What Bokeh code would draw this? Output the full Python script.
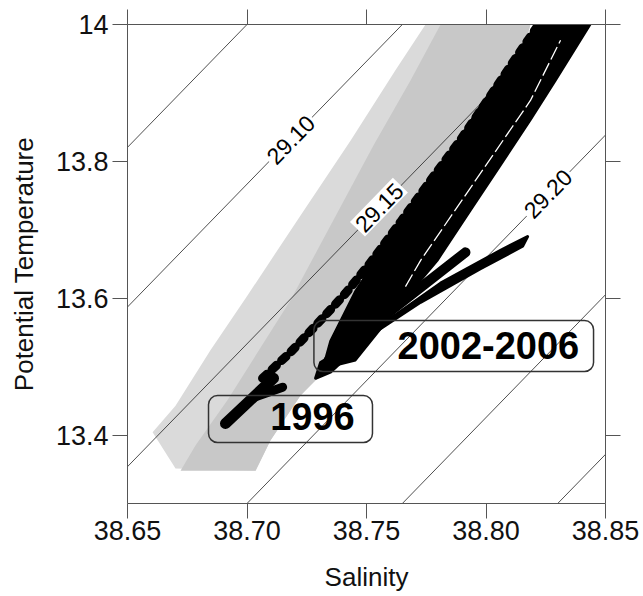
from bokeh.plotting import figure
from bokeh.models import FixedTicker, LinearAxis, Range1d
from bokeh.core.properties import value
from bokeh.embed import file_html
from bokeh.resources import INLINE

# ---------------- axes ----------------
sal_ticks = [38.65, 38.70, 38.75, 38.80, 38.85]
sal_tick_labels = ["38.65", "38.70", "38.75", "38.80", "38.85"]
temp_ticks = [13.4, 13.6, 13.8, 14.0]
temp_tick_labels = ["13.4", "13.6", "13.8", "14"]
sal_range = (38.65, 38.85)
temp_range = (13.3, 14.0)

# ---------------- isopycnals (sigma-theta) ----------------
sigma_levels = [29.05, 29.10, 29.15, 29.20, 29.25, 29.30]
sigma_temp_ends = [13.3, 14.0]
sigma_sal_at_low = [38.505, 38.570, 38.635, 38.700, 38.765, 38.830]
sigma_sal_at_high = [38.700, 38.765, 38.830, 38.895, 38.960, 39.025]
sigma_label_text = ["29.10", "29.15", "29.20"]
sigma_label_sal = [38.7182, 38.7552, 38.8258]
sigma_label_temp = [13.832, 13.733, 13.753]

# ---------------- grey cloud (all other profiles) ----------------
grey_fringe_sal = [38.6701, 38.6605, 38.6701, 38.6847, 38.7002, 38.7224, 38.7433,
                   38.7621, 38.7747, 38.8186, 38.8123, 38.8019, 38.7851, 38.7642,
                   38.7475, 38.7349, 38.7224, 38.7098, 38.7036]
grey_fringe_temp = [13.351, 13.404, 13.443, 13.524, 13.604, 13.721, 13.830,
                    13.933, 14.000, 14.000, 13.918, 13.845, 13.757, 13.655,
                    13.567, 13.502, 13.458, 13.392, 13.348]
grey_core_sal = [38.6722, 38.7036, 38.7098, 38.7224, 38.7349, 38.7475, 38.7642,
                 38.7851, 38.8019, 38.8123, 38.8186, 38.7810, 38.7684, 38.7529,
                 38.7349, 38.7182, 38.6918, 38.6785]
grey_core_temp = [13.348, 13.348, 13.392, 13.458, 13.502, 13.567, 13.655,
                  13.757, 13.845, 13.918, 14.000, 14.000, 13.918, 13.823,
                  13.706, 13.597, 13.451, 13.385]

# ---------------- 2002-2006 profiles (black) ----------------
band_sal = [38.7316, 38.7349, 38.7454, 38.7579, 38.7726, 38.7872, 38.7977, 38.8082,
            38.8215, 38.8437, 38.8291, 38.8186, 38.8061, 38.7935, 38.7797, 38.7621,
            38.7454]
band_temp = [13.497, 13.538, 13.611, 13.677, 13.750, 13.823, 13.882, 13.933,
             14.000, 14.000, 13.918, 13.860, 13.794, 13.728, 13.655, 13.582,
             13.509]
band_gap_sal = [38.7663, 38.7726, 38.8186, 38.8312]
band_gap_temp = [13.617, 13.655, 13.889, 13.977]
edge_sal = [38.7065, 38.7182, 38.7287, 38.7412, 38.7517, 38.7642, 38.7768,
            38.7893, 38.8006, 38.8123, 38.8215]
edge_temp = [13.483, 13.521, 13.560, 13.607, 13.652, 13.711, 13.772,
             13.831, 13.889, 13.950, 13.997]
branch1_sal = [38.7341, 38.7559, 38.7914]
branch1_temp = [13.509, 13.570, 13.667]
branch2_sal = [38.7308, 38.7559, 38.7810, 38.8061, 38.8174, 38.8153, 38.7977,
               38.7726, 38.7517, 38.7349, 38.7287]
branch2_temp = [13.506, 13.560, 13.622, 13.670, 13.690, 13.676, 13.643,
                13.594, 13.546, 13.492, 13.483]

# ---------------- 1996 profile (black) ----------------
p1996_a_sal = [38.6910, 38.7111]
p1996_a_temp = [13.417, 13.483]
p1996_b_sal = [38.7027, 38.7149]
p1996_b_temp = [13.455, 13.470]

# ---------------- annotation boxes ----------------
box_text = ["1996", "2002-2006"]
box_left = [38.6839, 38.7280]
box_right = [38.7525, 38.8450]
box_bottom = [13.3891, 13.4929]
box_top = [13.4578, 13.5674]
box_text_sal = [38.7274, 38.8010]
box_text_temp = [13.4272, 13.5309]

FONT = "Liberation Sans"

p = figure(width=643, height=596,
           x_range=Range1d(*sal_range), y_range=Range1d(*temp_range),
           output_backend="svg", toolbar_location=None,
           min_border_left=127, min_border_right=38,
           min_border_top=24, min_border_bottom=93)
p.grid.visible = False
p.outline_line_color = None
p.background_fill_color = "white"
p.border_fill_color = "white"

# grey cloud
p.patch(grey_fringe_sal, grey_fringe_temp, fill_color="#dadada", line_color=None)
p.patch(grey_core_sal, grey_core_temp, fill_color="#c8c8c8", line_color=None)

# isopycnals
p.multi_line(xs=[[a, b] for a, b in zip(sigma_sal_at_low, sigma_sal_at_high)],
             ys=[list(sigma_temp_ends) for _ in sigma_levels],
             line_color="#222222", line_width=0.8)
p.text(x=sigma_label_sal, y=sigma_label_temp, text=sigma_label_text,
       angle=45.8, angle_units="deg", text_align="center", text_baseline="middle",
       text_font=value(FONT), text_font_size="23px", text_color="black",
       background_fill_color="white", padding=2)

# 2002-2006 data
p.patch(band_sal, band_temp, fill_color="black", line_color="black", line_width=2)
p.line(band_gap_sal, band_gap_temp, line_color="white", line_width=1.3, line_dash="14 4")
p.patch(branch2_sal, branch2_temp, fill_color="black", line_color="black",
        line_width=3, line_join="round")
p.line(branch1_sal, branch1_temp, line_color="black", line_width=10, line_cap="round")
# 1996 data
p.line(edge_sal, edge_temp, line_color="black", line_width=9, line_cap="round",
       line_dash="6 7")
p.line(p1996_a_sal, p1996_a_temp, line_color="black", line_width=11, line_cap="round")
p.line(p1996_b_sal, p1996_b_temp, line_color="black", line_width=9, line_cap="round")

# boxes
p.quad(left=box_left, right=box_right, bottom=box_bottom, top=box_top,
       fill_color=None, line_color="#333333", line_width=1.5, border_radius=9)
p.text(x=box_text_sal, y=box_text_temp, text=box_text,
       text_align="center", text_baseline="middle",
       text_font=value(FONT), text_font_style="bold",
       text_font_size="38px", text_color="black")

# axes
axis_color = "#555555"
xb = p.below[0]
yl = p.left[0]
xt = LinearAxis()
yr = LinearAxis()
p.add_layout(xt, "above")
p.add_layout(yr, "right")
for ax, ticks, labels in ((xb, sal_ticks, sal_tick_labels), (xt, sal_ticks, sal_tick_labels),
                          (yl, temp_ticks, temp_tick_labels), (yr, temp_ticks, temp_tick_labels)):
    ax.ticker = FixedTicker(ticks=ticks, minor_ticks=[])
    ax.major_label_overrides = {t: l for t, l in zip(ticks, labels)}
    ax.major_tick_out = 15
    ax.major_tick_in = 0
    ax.minor_tick_out = 0
    ax.minor_tick_in = 0
    ax.axis_line_color = axis_color
    ax.major_tick_line_color = axis_color
    ax.major_label_text_font = FONT
    ax.major_label_text_font_size = "27px"
    ax.major_label_text_color = "#111111"
for ax in (xt, yr):
    ax.major_label_text_font_size = "1px"
    ax.major_label_text_color = None
    ax.major_label_standoff = 0
xb.major_label_standoff = 2
yl.major_label_standoff = 4
xb.axis_label = "Salinity"
yl.axis_label = "Potential Temperature"
for ax, st in ((xb, 19), (yl, 14)):
    ax.axis_label_text_font = FONT
    ax.axis_label_text_font_size = "26px"
    ax.axis_label_text_font_style = "normal"
    ax.axis_label_text_color = "#111111"
    ax.axis_label_standoff = st

open("out.html", "w").write(file_html(p, INLINE))
